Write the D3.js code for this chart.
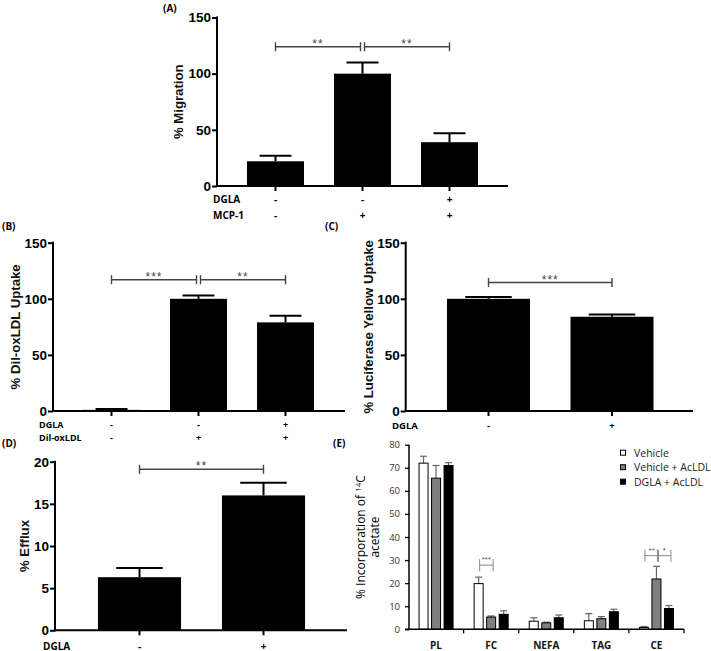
<!DOCTYPE html>
<html><head><meta charset="utf-8">
<script src="https://cdn.jsdelivr.net/npm/d3@7"></script>
<style>body{margin:0;background:#fff}</style>
</head><body><svg id="c" width="711" height="651"></svg>
<script>
// ---------- DATA ----------
// Panel A: % Migration
const aGroups = ["g1", "g2", "g3"];
const aMeans = [22, 100, 39];
const aSEM = [5, 10, 8];
const aDGLA = ["-", "-", "+"];
const aMCP1 = ["-", "+", "+"];
const aTicks = [0, 50, 100, 150];
const aSig = [["g1", "g2", "**", 124], ["g2", "g3", "**", 124]];

// Panel B: % DiI-oxLDL uptake
const bGroups = ["g1", "g2", "g3"];
const bMeans = [1, 100, 79];
const bSEM = [0.8, 3, 6];
const bDGLA = ["-", "-", "+"];
const bOxLDL = ["-", "+", "+"];
const bTicks = [0, 50, 100, 150];
const bSig = [["g1", "g2", "***", 117], ["g2", "g3", "**", 117]];

// Panel C: % Luciferase Yellow uptake
const cGroups = ["g1", "g2"];
const cMeans = [100, 84];
const cSEM = [1.5, 2];
const cDGLA = ["-", "+"];
const cTicks = [0, 50, 100, 150];
const cSig = [["g1", "g2", "***", 114.5]];

// Panel D: % Efflux
const dGroups = ["g1", "g2"];
const dMeans = [6.3, 16];
const dSEM = [1.1, 1.5];
const dDGLA = ["-", "+"];
const dTicks = [0, 5, 10, 15, 20];
const dSig = [["g1", "g2", "**", 19.1]];

// Panel E: % incorporation of 14C acetate
const eCategories = ["PL", "FC", "NEFA", "TAG", "CE"];
const eSeries = ["Vehicle", "Vehicle + AcLDL", "DGLA + AcLDL"];
const eVehicle = [72, 19.8, 3.5, 3.7, 0.8];
const eVehicleSEM = [3, 2.8, 1.5, 3.1, 0.4];
const eVehAcLDL = [65.5, 5.3, 2.8, 4.6, 21.8];
const eVehAcLDLSEM = [5.5, 0.5, 0.3, 0.9, 5.5];
const eDGLAAcLDL = [71, 6.5, 5, 7.6, 9];
const eDGLAAcLDLSEM = [1.2, 1.5, 1.2, 1.1, 1.3];
const eTicks = [0, 10, 20, 30, 40, 50, 60, 70, 80];
const eSig = [["FC", 0, 1, "***", 27.8], ["CE", 0, 1, "**", 31.9], ["CE", 1, 2, "*", 31.9]];

// ---------- DRAWING ----------
const svg = d3.select("#c");
const AF = "'Liberation Sans', Arial, sans-serif";
const OF = "'Open Sans', sans-serif";

function prismPanel(p) {
  const g = svg.append("g");
  const x = d3.scaleBand().domain(p.groups).range(p.bandRange)
    .paddingInner(p.pad).paddingOuter(p.pad / 2);
  const y = d3.scaleLinear().domain([0, p.ticks[p.ticks.length - 1]]).range(p.yRange);
  const bw = x.bandwidth();
  const cx = d => x(d) + bw / 2;

  // bars
  g.selectAll("rect.bar").data(p.groups).join("rect")
    .attr("x", d => x(d)).attr("width", bw)
    .attr("y", (d, i) => y(p.means[i]))
    .attr("height", (d, i) => y(0) - y(p.means[i]))
    .attr("fill", "#000");
  // error bars
  const capW = bw * 0.56;
  p.groups.forEach((d, i) => {
    const top = y(p.means[i] + p.sem[i]);
    g.append("line").attr("x1", cx(d)).attr("x2", cx(d))
      .attr("y1", y(p.means[i])).attr("y2", top)
      .attr("stroke", "#000").attr("stroke-width", 2);
    g.append("line").attr("x1", cx(d) - capW / 2).attr("x2", cx(d) + capW / 2)
      .attr("y1", top).attr("y2", top)
      .attr("stroke", "#000").attr("stroke-width", 2);
  });

  // y axis
  const ya = g.append("g").attr("transform", `translate(${p.axisX},0)`)
    .call(d3.axisLeft(y).tickValues(p.ticks).tickSize(5).tickPadding(1).tickFormat(d3.format("d")));
  ya.select(".domain").remove();
  ya.selectAll(".tick line").attr("stroke", "#000").attr("stroke-width", 2);
  ya.selectAll(".tick text").attr("font-family", AF).attr("font-weight", "bold")
    .attr("font-size", 13.5).attr("fill", "#000");
  g.append("line").attr("x1", p.axisX).attr("x2", p.axisX)
    .attr("y1", y(p.ticks[p.ticks.length - 1]) - 1).attr("y2", y(0) + 1)
    .attr("stroke", "#000").attr("stroke-width", 2);

  // x axis
  const xa = g.append("g").attr("transform", `translate(0,${y(0)})`)
    .call(d3.axisBottom(x).tickSize(5).tickFormat(""));
  xa.select(".domain").remove();
  xa.selectAll(".tick line").attr("stroke", "#000").attr("stroke-width", 2);
  g.append("line").attr("x1", p.axisX - 1).attr("x2", p.xEnd)
    .attr("y1", y(0)).attr("y2", y(0))
    .attr("stroke", "#000").attr("stroke-width", 2);

  // y label
  g.append("text")
    .attr("transform", `translate(${p.ylabelX},${(y(0) + y(p.ticks[p.ticks.length - 1])) / 2}) rotate(-90)`)
    .attr("text-anchor", "middle").attr("font-family", AF).attr("font-size", 13.2)
    .attr("font-weight", "bold").attr("fill", "#111").text(p.ylabel);

  // condition rows
  p.rows.forEach((r, ri) => {
    g.append("text").attr("x", p.rowLabelX).attr("y", p.rowY[ri])
      .attr("font-family", OF).attr("font-weight", "bold").attr("font-size", p.rowFont || 10)
      .attr("fill", "#000").text(r[0]);
    p.groups.forEach((d, i) => {
      g.append("text").attr("x", cx(d)).attr("y", p.rowY[ri])
        .attr("text-anchor", "middle").attr("font-family", OF).attr("font-weight", "bold")
        .attr("font-size", p.rowFont || 10).attr("fill", "#000").text(r[1][i]);
    });
  });

  // significance brackets
  p.sig.forEach((s, si) => {
    const yy = y(s[3]);
    let x1 = cx(s[0]), x2 = cx(s[1]);
    const shared = p.sig.length > 1;
    if (shared && si === 0) x2 -= 2;
    if (shared && si === 1) x1 += 2;
    const col = "#444";
    g.append("line").attr("x1", x1).attr("x2", x2).attr("y1", yy).attr("y2", yy)
      .attr("stroke", col).attr("stroke-width", 1.4);
    [x1, x2].forEach(xx => g.append("line").attr("x1", xx).attr("x2", xx)
      .attr("y1", yy - 4.5).attr("y2", yy + 4.5).attr("stroke", col).attr("stroke-width", 1.4));
    g.append("text").attr("x", (x1 + x2) / 2).attr("y", yy + 1)
      .attr("text-anchor", "middle").attr("font-family", AF).attr("font-size", 12)
      .attr("letter-spacing", 1).attr("fill", col).text(s[2]);
  });

  // panel title
  g.append("text").attr("x", p.title[1]).attr("y", p.title[2])
    .attr("font-family", OF).attr("font-weight", "bold").attr("font-size", 10)
    .attr("fill", "#000").text(p.title[0]);
}

prismPanel({
  groups: aGroups, means: aMeans, sem: aSEM, ticks: aTicks, sig: aSig,
  bandRange: [232, 493], pad: 0.345, yRange: [186, 17.5], axisX: 217, xEnd: 508,
  ylabel: "% Migration", ylabelX: 183,
  rows: [["DGLA", aDGLA], ["MCP-1", aMCP1]], rowLabelX: 213, rowY: [203, 218.5],
  title: ["(A)", 163, 12]
});
prismPanel({
  groups: bGroups, means: bMeans, sem: bSEM, ticks: bTicks, sig: bSig,
  bandRange: [68, 329], pad: 0.345, yRange: [411, 242.7], axisX: 53, xEnd: 345,
  ylabel: "% Dil-oxLDL Uptake", ylabelX: 20,
  rows: [["DGLA", bDGLA], ["Dil-oxLDL", bOxLDL]], rowLabelX: 39, rowY: [428, 440.5], rowFont: 9,
  title: ["(B)", 2, 230]
});
prismPanel({
  groups: cGroups, means: cMeans, sem: cSEM, ticks: cTicks, sig: cSig,
  bandRange: [426.75, 673.75], pad: 0.328, yRange: [411, 242.7], axisX: 405.7, xEnd: 693,
  ylabel: "% Luciferase Yellow Uptake", ylabelX: 373,
  rows: [["DGLA", cDGLA]], rowLabelX: 392, rowY: [429], rowFont: 9.5,
  title: ["(C)", 325, 230]
});
prismPanel({
  groups: dGroups, means: dMeans, sem: dSEM, ticks: dTicks, sig: dSig,
  bandRange: [77.5, 325.5], pad: 0.33, yRange: [630.3, 461.7], axisX: 55, xEnd: 347,
  ylabel: "% Efflux", ylabelX: 29,
  rows: [["DGLA", dDGLA]], rowLabelX: 43, rowY: [649.5],
  title: ["(D)", 2, 447]
});

// ---------- Panel E ----------
(function () {
  const g = svg.append("g");
  const x0 = d3.scaleBand().domain(eCategories).range([408.5, 684]).padding(0);
  const x1 = d3.scaleBand().domain([0, 1, 2]).range([x0.bandwidth() / 2 - 18.75, x0.bandwidth() / 2 + 18.75])
    .paddingInner(0.2).paddingOuter(0.1);
  const y = d3.scaleLinear().domain([0, 80]).range([629.3, 444.7]);
  const series = [
    { name: eSeries[0], vals: eVehicle, sem: eVehicleSEM, fill: "#fff" },
    { name: eSeries[1], vals: eVehAcLDL, sem: eVehAcLDLSEM, fill: "#808080" },
    { name: eSeries[2], vals: eDGLAAcLDL, sem: eDGLAAcLDLSEM, fill: "#000" }
  ];
  const bw = x1.bandwidth();
  series.forEach((s, si) => {
    eCategories.forEach((c, ci) => {
      const bx = x0(c) + x1(si);
      const cxp = bx + bw / 2;
      const top = y(s.vals[ci] + s.sem[ci]);
      g.append("line").attr("x1", cxp).attr("x2", cxp).attr("y1", y(s.vals[ci])).attr("y2", top)
        .attr("stroke", "#666").attr("stroke-width", 1.2);
      g.append("line").attr("x1", cxp - 3.5).attr("x2", cxp + 3.5).attr("y1", top).attr("y2", top)
        .attr("stroke", "#666").attr("stroke-width", 1.2);
      g.append("rect").attr("x", bx + 0.5).attr("width", bw - 1)
        .attr("y", y(s.vals[ci])).attr("height", y(0) - y(s.vals[ci]))
        .attr("fill", s.fill).attr("stroke", "#000").attr("stroke-width", 1);
    });
  });

  // axes
  const ya = g.append("g").attr("transform", "translate(409,0)")
    .call(d3.axisLeft(y).tickValues(eTicks).tickSize(4).tickPadding(5));
  ya.select(".domain").remove();
  ya.selectAll(".tick line").attr("stroke", "#000").attr("stroke-width", 1.3);
  ya.selectAll(".tick text").attr("font-family", OF).attr("font-size", 9.5).attr("fill", "#333");
  g.append("line").attr("x1", 409).attr("x2", 409).attr("y1", y(80)).attr("y2", y(0))
    .attr("stroke", "#000").attr("stroke-width", 1.5);
  g.append("line").attr("x1", 405).attr("x2", 684).attr("y1", y(0)).attr("y2", y(0))
    .attr("stroke", "#000").attr("stroke-width", 1.5);
  const bounds = eCategories.map(c => x0(c) + x0.bandwidth());
  g.selectAll("line.xt").data(bounds).join("line")
    .attr("x1", d => d).attr("x2", d => d).attr("y1", y(0)).attr("y2", y(0) + 4)
    .attr("stroke", "#000").attr("stroke-width", 1.3);
  eCategories.forEach(c => {
    g.append("text").attr("x", x0(c) + x0.bandwidth() / 2).attr("y", 648.5)
      .attr("text-anchor", "middle").attr("font-family", OF).attr("font-weight", "bold")
      .attr("font-size", 10).attr("fill", "#111").text(c);
  });

  // y label (two lines)
  const yc = (y(0) + y(80)) / 2;
  const t1 = g.append("text").attr("transform", `translate(365,${yc}) rotate(-90)`)
    .attr("text-anchor", "middle").attr("font-family", OF).attr("font-size", 12).attr("fill", "#000");
  t1.append("tspan").text("% Incorporation of ");
  t1.append("tspan").attr("font-size", 8).attr("dy", -4).text("14");
  t1.append("tspan").attr("dy", 4).text("C");
  g.append("text").attr("transform", `translate(379,${yc}) rotate(-90)`)
    .attr("text-anchor", "middle").attr("font-family", OF).attr("font-size", 12).attr("fill", "#000")
    .text("acetate");

  // significance
  eSig.forEach(s => {
    const xa = x0(s[0]) + x1(s[1]) + bw / 2 + 1;
    const xb = x0(s[0]) + x1(s[2]) + bw / 2 + 2;
    const yy = y(s[4]);
    const col = "#888";
    g.append("line").attr("x1", xa).attr("x2", xb).attr("y1", yy).attr("y2", yy).attr("stroke", col);
    [xa, xb].forEach(xx => g.append("line").attr("x1", xx).attr("x2", xx)
      .attr("y1", yy - 6).attr("y2", yy + 6).attr("stroke", col));
    g.append("text").attr("x", (xa + xb) / 2).attr("y", yy - 3).attr("text-anchor", "middle")
      .attr("font-family", AF).attr("font-size", 8).attr("fill", "#555").text(s[3]);
  });

  // legend
  series.forEach((s, i) => {
    const ly = 452.7 + i * 14.5;
    g.append("rect").attr("x", 620.5).attr("y", ly - 2.5).attr("width", 5).attr("height", 5)
      .attr("fill", s.fill).attr("stroke", "#000").attr("stroke-width", 1);
    g.append("text").attr("x", 634).attr("y", ly + 4).attr("font-family", OF)
      .attr("font-size", 10.5).attr("fill", "#222").text(s.name);
  });

  g.append("text").attr("x", 333).attr("y", 447).attr("font-family", OF).attr("font-weight", "bold")
    .attr("font-size", 10).attr("fill", "#000").text("(E)");
})();
</script>
</body></html>
